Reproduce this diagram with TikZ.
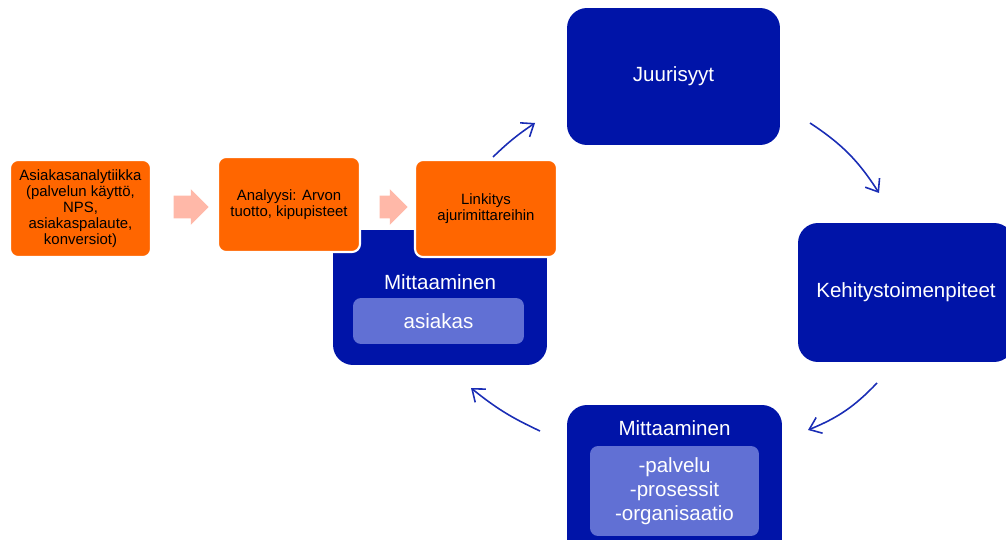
\documentclass[tikz,border=0pt]{standalone}
\usepackage{fontspec}
\setmainfont{Liberation Sans}
\usetikzlibrary{shapes.arrows,arrows.meta}
\definecolor{oranssi}{HTML}{FF6600}
\definecolor{sininen}{HTML}{0014A8}
\definecolor{vaalea}{HTML}{6170D4}
\definecolor{nuoli}{HTML}{FFB8A8}
\definecolor{kaari}{HTML}{1A2DB5}
\tikzset{
  vaihe/.style={draw=white, line width=1.2pt, fill=oranssi, rounded corners=0.16cm,
    align=center, inner sep=0pt, font=\fontsize{8.5}{9.2}\selectfont},
  jakso/.style={fill=sininen, rounded corners=0.4cm, inner sep=0pt, text=white,
    align=center, font=\fontsize{11.7}{14}\selectfont},
  otsikko/.style={text=white, inner sep=0pt, font=\fontsize{11.7}{14}\selectfont},
  sisa/.style={fill=vaalea, rounded corners=0.16cm, inner sep=0pt, text=white,
    align=center, font=\fontsize{11.7}{13.6}\selectfont},
  siirto/.style={single arrow, fill=nuoli, inner xsep=0pt, inner ysep=0.22cm,
    single arrow head extend=0.13cm},
  kierto/.style={draw=kaari, line width=0.9pt, -{Straight Barb[length=2.2mm,width=3.4mm]}},
}
\begin{document}
\begin{tikzpicture}[x=0.02cm, y=-0.02cm]
        \useasboundingbox (0,0) rectangle (1006,540);

        % Measuring the customer
        \node[jakso, minimum width=4.28cm, minimum height=2.7cm] (mitA) at (440,297.5) {};
        \node[otsikko] (mitAt) at (440,282) {Mittaaminen};
        \node[sisa, minimum width=3.42cm, minimum height=0.92cm] (asiakas) at (438.5,321) {asiakas};

        % Orange steps
        \node[vaihe, minimum width=2.82cm, minimum height=1.94cm] (analytiikka) at (80.5,208.5)
            {Asiakasanalytiikka\\(palvelun käyttö,\\NPS,\\asiakaspalaute,\\konversiot)};
        \node[vaihe, minimum width=2.84cm, minimum height=1.9cm] (analyysi) at (289,204.5)
            {Analyysi: Arvon\\tuotto, kipupisteet};
        \node[vaihe, minimum width=2.84cm, minimum height=1.94cm] (linkitys) at (486,208.5)
            {Linkitys\\ajurimittareihin};

        \node[siirto, minimum height=0.7cm] (s1) at (185.5,207) {};
        \node[siirto, minimum height=0.56cm] (s2) at (388,207) {};

        % Cycle
        \node[jakso, minimum width=4.26cm, minimum height=2.74cm] (juuri) at (673.5,76.5) {Juurisyyt};
        \node[jakso, minimum width=4.32cm, minimum height=2.78cm] (kehitys) at (906,292.5) {Kehitystoimenpiteet};
        \node[jakso, minimum width=4.3cm, minimum height=3.16cm] (mitB) at (674.5,484) {};
        \node[otsikko] (mitBt) at (674.5,428) {Mittaaminen};
        \node[sisa, minimum width=3.38cm, minimum height=1.8cm] (sisaB) at (674.5,491)
            {-palvelu\\-prosessit\\-organisaatio};

        \coordinate (k1a) at (493,157);
        \coordinate (k1b) at (535,123);
        \coordinate (k2a) at (810,123);
        \coordinate (k2b) at (879,193);
        \coordinate (k3a) at (877,383);
        \coordinate (k3b) at (808,430);
        \coordinate (k4a) at (540,431);
        \coordinate (k4b) at (471,388);

        \draw[kierto] (k1a) to[bend left=5] (k1b);
        \draw[kierto] (k2a) to[bend left=12] (k2b);
        \draw[kierto] (k3a) to[bend left=12] (k3b);
        \draw[kierto] (k4a) to[bend left=7] (k4b);

\end{tikzpicture}
\end{document}
